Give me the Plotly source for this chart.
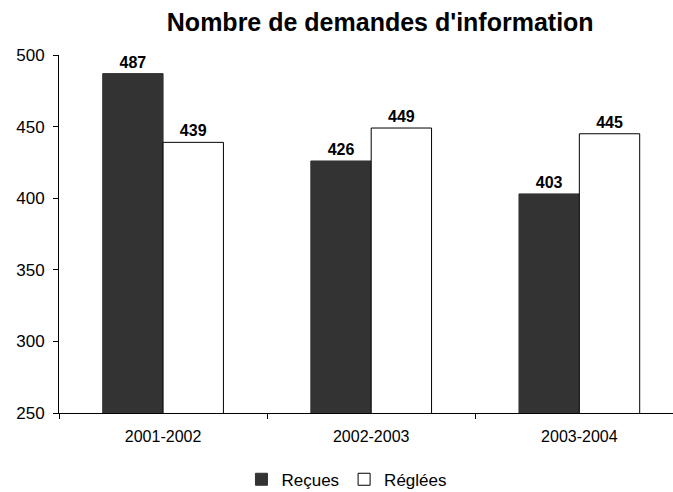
import plotly.graph_objects as go

periodes = ["2001-2002", "2002-2003", "2003-2004"]
recues = [487, 426, 403]
reglees = [439, 449, 445]

label_font = dict(family="Liberation Sans, Arial", size=16, color="black")

fig = go.Figure()
fig.add_trace(go.Bar(
    name="Reçues",
    x=periodes,
    y=recues,
    marker=dict(color="#333333", line=dict(color="#333333", width=1)),
    text=[f"<b>{v}</b>" for v in recues],
    textposition="outside",
    textfont=label_font,
    cliponaxis=False,
))
fig.add_trace(go.Bar(
    name="Réglées",
    x=periodes,
    y=reglees,
    marker=dict(color="white", line=dict(color="black", width=1)),
    text=[f"<b>{v}</b>" for v in reglees],
    textposition="outside",
    textfont=label_font,
    cliponaxis=False,
))

fig.update_layout(
    width=673,
    height=492,
    paper_bgcolor="white",
    plot_bgcolor="white",
    font=dict(family="Liberation Sans, Arial", size=15, color="black"),
    title=dict(
        text="<b>Nombre de demandes d'information</b>",
        x=0.565,
        xanchor="center",
        y=0.955,
        yanchor="middle",
        font=dict(size=25),
    ),
    margin=dict(l=59, r=0, t=55, b=79),
    barmode="group",
    bargap=0.42,
    bargroupgap=0,
    showlegend=True,
    legend=dict(
        orientation="h",
        x=0.469,
        xanchor="center",
        yref="container",
        y=0.025,
        yanchor="middle",
        font=dict(size=17),
        itemwidth=30,
        traceorder="normal",
    ),
    xaxis=dict(
        range=[-0.5, 2.45],
        showline=True,
        linecolor="black",
        linewidth=1,
        ticks="outside",
        tickson="boundaries",
        ticklen=5,
        tickcolor="black",
        showgrid=False,
        tickfont=dict(size=16),
        ticklabelstandoff=9,
    ),
    yaxis=dict(
        range=[250, 500],
        dtick=50,
        showline=True,
        linecolor="black",
        linewidth=1,
        ticks="outside",
        ticklen=5,
        tickcolor="black",
        showgrid=False,
        zeroline=False,
        tickfont=dict(size=17),
        ticklabelstandoff=5,
    ),
)

# the page body has a default margin, remove it so the chart sits at 0,0
fig.write_html(
    "out.html",
    config={"displayModeBar": False},
    post_script="document.body.style.margin='0px';",
)
